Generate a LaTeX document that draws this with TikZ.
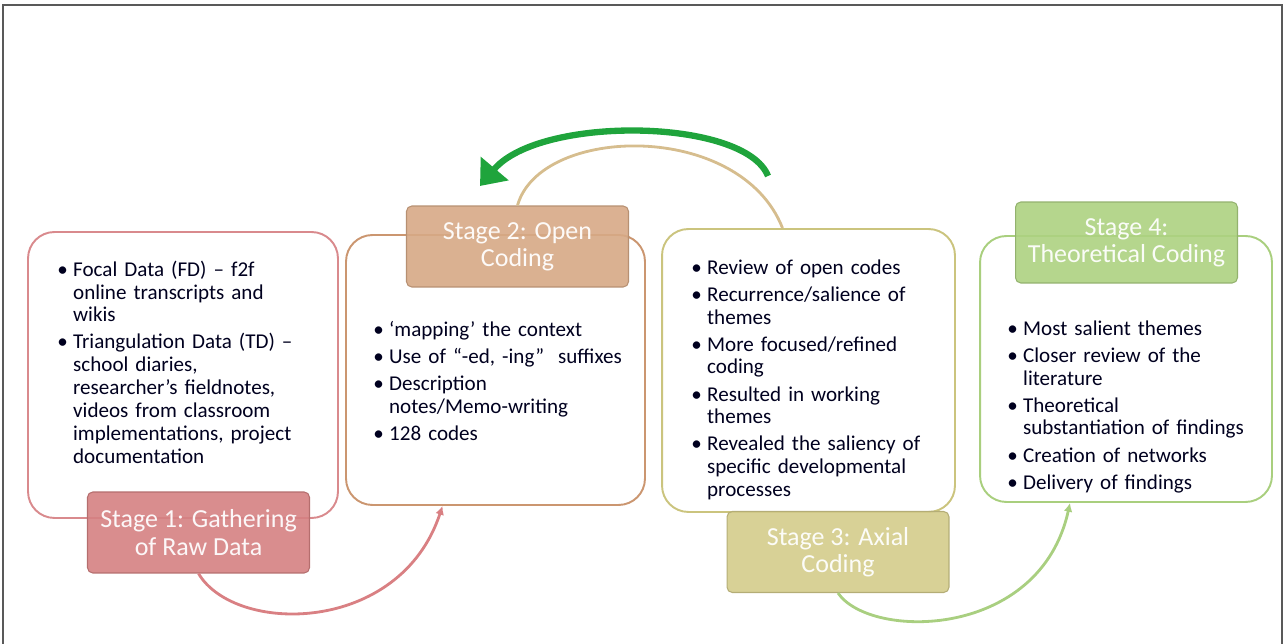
\documentclass[tikz,border=0pt]{standalone}
\usepackage{fontspec}
\setmainfont{Carlito}
\usetikzlibrary{arrows.meta}
\definecolor{redline}{HTML}{D98A8D}
\definecolor{orangeline}{HTML}{CB9670}
\definecolor{oliveline}{HTML}{CBC47E}
\definecolor{greenline}{HTML}{A9CF7E}
\definecolor{stagered}{HTML}{D58182}
\definecolor{stagetan}{HTML}{D7A986}
\definecolor{stageolive}{HTML}{D4CC8B}
\definecolor{stagegreen}{HTML}{ADD281}
\definecolor{redarrow}{HTML}{D98083}
\definecolor{tanarc}{HTML}{D6BD8E}
\definecolor{greenarrow}{HTML}{A9CF80}
\definecolor{loopgreen}{HTML}{1FA43C}
\tikzset{
  panel/.style={draw=#1, line width=1.1pt, rounded corners=15pt, fill=white, inner sep=0pt},
  stage/.style={fill=#1, draw=#1!85!black, line width=0.6pt, rounded corners=3pt,
    fill opacity=0.9, text opacity=1, text=white!94!#1, font=\fontsize{14.8}{15.5}\selectfont,
    align=center, inner sep=0pt, minimum width=4.44cm, minimum height=1.62cm},
  bullets/.style={anchor=north west, inner sep=0pt, align=left,
    font=\fontsize{12}{13}\selectfont, text=black!88!blue},
  flow/.style={draw=#1, line width=1.6pt, -{Latex[length=5pt,width=5pt]}}
}
\newcommand{\bul}[1]{\par\hangindent=9pt\hangafter=1\noindent\makebox[9pt][l]{\textbullet}#1\par\vspace{2.4pt}}
\begin{document}
\begin{tikzpicture}[x=0.02cm,y=-0.02cm]
\useasboundingbox (0,0) rectangle (1285,644);
\draw[gray!70!black, line width=1pt] (3,644) -- (3,5) -- (1282,5) -- (1282,644);

\node[panel=redline, minimum width=6.2cm, minimum height=5.72cm] (box1) at (183,375) {};
\node[panel=orangeline, minimum width=5.98cm, minimum height=5.4cm] (box2) at (495.5,370) {};
\node[panel=oliveline, minimum width=5.86cm, minimum height=5.66cm] (box3) at (808.5,370.5) {};
\node[panel=greenline, minimum width=5.84cm, minimum height=5.32cm] (box4) at (1126,369) {};

\node[bullets, text width=5.4cm] (txt1) at (57,253) {%
\bul{Focal Data (FD) – f2f\newline online transcripts and\newline wikis}%
\bul{Triangulation Data (TD) –\newline school diaries,\newline researcher’s fieldnotes,\newline videos from classroom\newline implementations, project\newline documentation}};
\node[bullets, text width=5.6cm] (txt2) at (373,313) {%
\bul{‘mapping’ the context}%
\bul{Use of “-ed, -ing”\ \ suffixes}%
\bul{Description\newline notes/Memo-writing}%
\bul{128 codes}};
\node[bullets, text width=5.3cm] (txt3) at (691,251) {%
\bul{Review of open codes}%
\bul{Recurrence/salience of\newline themes}%
\bul{More focused/refined\newline coding}%
\bul{Resulted in working\newline themes}%
\bul{Revealed the saliency of\newline specific developmental\newline processes}};
\node[bullets, text width=5.3cm] (txt4) at (1007,312) {%
\bul{Most salient themes}%
\bul{Closer review of the\newline literature}%
\bul{Theoretical\newline substantiation of findings}%
\bul{Creation of networks}%
\bul{Delivery of findings}};

\node[stage=stagered] (st1) at (198.5,532.5) {Stage 1: Gathering\\of Raw Data};
\node[stage=stagetan] (st2) at (517.5,246.5) {Stage 2: Open\\Coding};
\node[stage=stageolive] (st3) at (838,552) {Stage 3: Axial\\Coding};
\node[stage=stagegreen] (st4) at (1126.5,242.5) {Stage 4:\\Theoretical Coding};

\draw[flow=redarrow] (st1.south) .. controls (235,635) and (400,635) .. ([xshift=-1.06cm]box2.south);
\draw[tanarc, line width=1.6pt] (st2.north) .. controls (540,125) and (740,120) .. ([xshift=-0.52cm]box3.north);
\draw[flow=greenarrow] (st3.south) .. controls (870,640) and (1040,640) .. ([xshift=-1.12cm]box4.south);

\coordinate (loopR) at (768,176);
\coordinate (loopL) at (480,186);
\draw[loopgreen, line width=3.6pt, -{Triangle[length=13pt,width=20pt]}] (loopR) .. controls (745,118) and (540,115) .. (loopL);
\end{tikzpicture}
\end{document}
